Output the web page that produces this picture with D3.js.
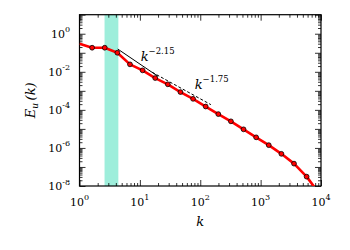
<!DOCTYPE html>
<html>
<head>
<meta charset="utf-8">
<title>energy spectrum</title>
<script src="https://cdn.jsdelivr.net/npm/d3@7"></script>
<style>
    body { margin: 0; background: white; }
    .tickLabel { font-family: "DejaVu Serif"; font-size: 11px; fill: black; }
    .mathLabel { font-family: "DejaVu Serif"; font-style: italic; fill: black; }
</style>
</head>
<body>
<script>
    // shell wavenumbers and spectrum values
    const shellK = [1, 1.618, 2.618, 4.236, 6.854, 11.09, 17.94, 29.03, 46.98, 76.01,
        123.0, 199.0, 321.9, 521.0, 842.9, 1364, 2207, 3571, 5778, 9349];
    const spectrum = [0.30, 0.184, 0.184, 0.10, 0.0246, 0.0119, 4.7e-3, 2.2e-3, 8.6e-4, 3.8e-4,
        1.5e-4, 6.0e-5, 2.5e-5, 9.5e-6, 3.6e-6, 1.4e-6, 4.9e-7, 1.5e-7, 3.1e-8, 4e-9];
    const forcingBand = [2.6, 4.4];
    const fitSteepK = [4.3, 20];
    const fitSteepE = [0.157, 0.00575];
    const fitShallowK = [16, 150];
    const fitShallowE = [0.00945, 1.88e-4];
    const xTickExp = [0, 1, 2, 3, 4];
    const yTickExp = [0, -2, -4, -6, -8];

    const W = 350, H = 250;
    const padL = 79.5, padR = 321, padT = 14.7, padB = 186;

    const svg = d3.select("body").append("svg").attr("width", W).attr("height", H);
    const x = d3.scaleLog().domain([1, 1e4]).range([padL, padR]);
    const y = d3.scaleLog().domain([1e-8, 10]).range([padB, padT]);

    svg.append("defs").append("clipPath").attr("id", "plotClip")
        .append("rect").attr("x", padL).attr("y", padT)
        .attr("width", padR - padL).attr("height", padB - padT);

    // forcing band
    svg.append("rect")
        .attr("x", x(forcingBand[0]))
        .attr("y", padT)
        .attr("width", x(forcingBand[1]) - x(forcingBand[0]))
        .attr("height", padB - padT)
        .attr("fill", "#9eeedb");

    // ticks, all pointing inside
    const minorX = [];
    d3.range(0, 4).forEach(d => { for (let m = 2; m < 10; m++) minorX.push(m * Math.pow(10, d)); });
    const majorX = xTickExp.map(e => Math.pow(10, e));
    const minorY = [];
    d3.range(-8, 1).forEach(d => { for (let m = 2; m < 10; m++) minorY.push(m * Math.pow(10, d)); });
    const majorY = d3.range(-8, 2).map(e => Math.pow(10, e));

    function drawAxis(axis, tr, vals, size) {
        const g = svg.append("g").attr("transform", tr)
            .call(axis.tickValues(vals).tickSize(size).tickFormat(""));
        g.select(".domain").remove();
        g.selectAll("line").attr("stroke", "black").attr("stroke-width", 0.8);
    }
    drawAxis(d3.axisBottom(x), `translate(0,${padB})`, majorX, -6);
    drawAxis(d3.axisBottom(x), `translate(0,${padB})`, minorX, -3);
    drawAxis(d3.axisTop(x), `translate(0,${padT})`, majorX, -6);
    drawAxis(d3.axisTop(x), `translate(0,${padT})`, minorX, -3);
    drawAxis(d3.axisLeft(y), `translate(${padL},0)`, majorY, -6);
    drawAxis(d3.axisLeft(y), `translate(${padL},0)`, minorY, -3);
    drawAxis(d3.axisRight(y), `translate(${padR},0)`, majorY, -6);
    drawAxis(d3.axisRight(y), `translate(${padR},0)`, minorY, -3);

    // frame
    svg.append("rect")
        .attr("x", padL).attr("y", padT)
        .attr("width", padR - padL).attr("height", padB - padT)
        .attr("fill", "none").attr("stroke", "black").attr("stroke-width", 1.2);

    // tick labels
    xTickExp.forEach(e => {
        const t = svg.append("text").attr("class", "tickLabel")
            .attr("x", x(Math.pow(10, e))).attr("y", padB + 19.5)
            .attr("text-anchor", "middle");
        t.append("tspan").text("10");
        t.append("tspan").attr("dy", -5.5).attr("font-size", "8px").text(e);
    });
    yTickExp.forEach(e => {
        const t = svg.append("text").attr("class", "tickLabel")
            .attr("x", padL - 9.5).attr("y", y(Math.pow(10, e)) + 4)
            .attr("text-anchor", "end");
        t.append("tspan").text("10");
        t.append("tspan").attr("dy", -5.5).attr("font-size", "8px").text(e);
    });

    // power-law guides
    const plot = svg.append("g").attr("clip-path", "url(#plotClip)");
    const guide = d3.line().x(d => x(d[0])).y(d => y(d[1]));
    plot.append("path")
        .attr("d", guide(d3.zip(fitSteepK, fitSteepE)))
        .attr("stroke", "black").attr("stroke-width", 1).attr("fill", "none");
    plot.append("path")
        .attr("d", guide(d3.zip(fitShallowK, fitShallowE)))
        .attr("stroke", "black").attr("stroke-width", 1).attr("fill", "none")
        .attr("stroke-dasharray", "3,2");

    // spectrum
    const pts = d3.zip(shellK, spectrum);
    plot.append("path")
        .attr("d", d3.line().x(d => x(d[0])).y(d => y(d[1]))(pts))
        .attr("stroke", "red").attr("stroke-width", 2.6).attr("fill", "none")
        .attr("stroke-linejoin", "round");
    plot.selectAll(".pt")
        .data(pts.filter(d => d[0] > 1 && d[1] > 1e-8))
        .enter().append("circle")
        .attr("cx", d => x(d[0])).attr("cy", d => y(d[1]))
        .attr("r", 2.4)
        .attr("fill", "red").attr("stroke", "black").attr("stroke-width", 0.8);

    // annotations
    function powerLabel(px, py, exp) {
        const t = svg.append("text").attr("class", "mathLabel")
            .attr("x", px).attr("y", py).attr("font-size", "13px");
        t.append("tspan").text("k");
        t.append("tspan").attr("dy", -7).attr("font-size", "8.5px")
            .attr("font-style", "normal").text(exp);
    }
    powerLabel(x(10.3), 60.7, "\u22122.15");
    powerLabel(x(81), 89.3, "\u22121.75");

    // axis titles
    svg.append("text").attr("class", "mathLabel")
        .attr("x", (padL + padR) / 2).attr("y", 226)
        .attr("text-anchor", "middle").attr("font-size", "13px").text("k");
    const yl = svg.append("text").attr("class", "mathLabel")
        .attr("transform", `translate(35,${(padT + padB) / 2}) rotate(-90)`)
        .attr("text-anchor", "middle").attr("font-size", "13px");
    yl.append("tspan").text("E");
    yl.append("tspan").attr("dy", 3).attr("font-size", "9px").text("u");
    yl.append("tspan").attr("dy", -3).text("\u2009(k)");
</script>
</body>
</html>
